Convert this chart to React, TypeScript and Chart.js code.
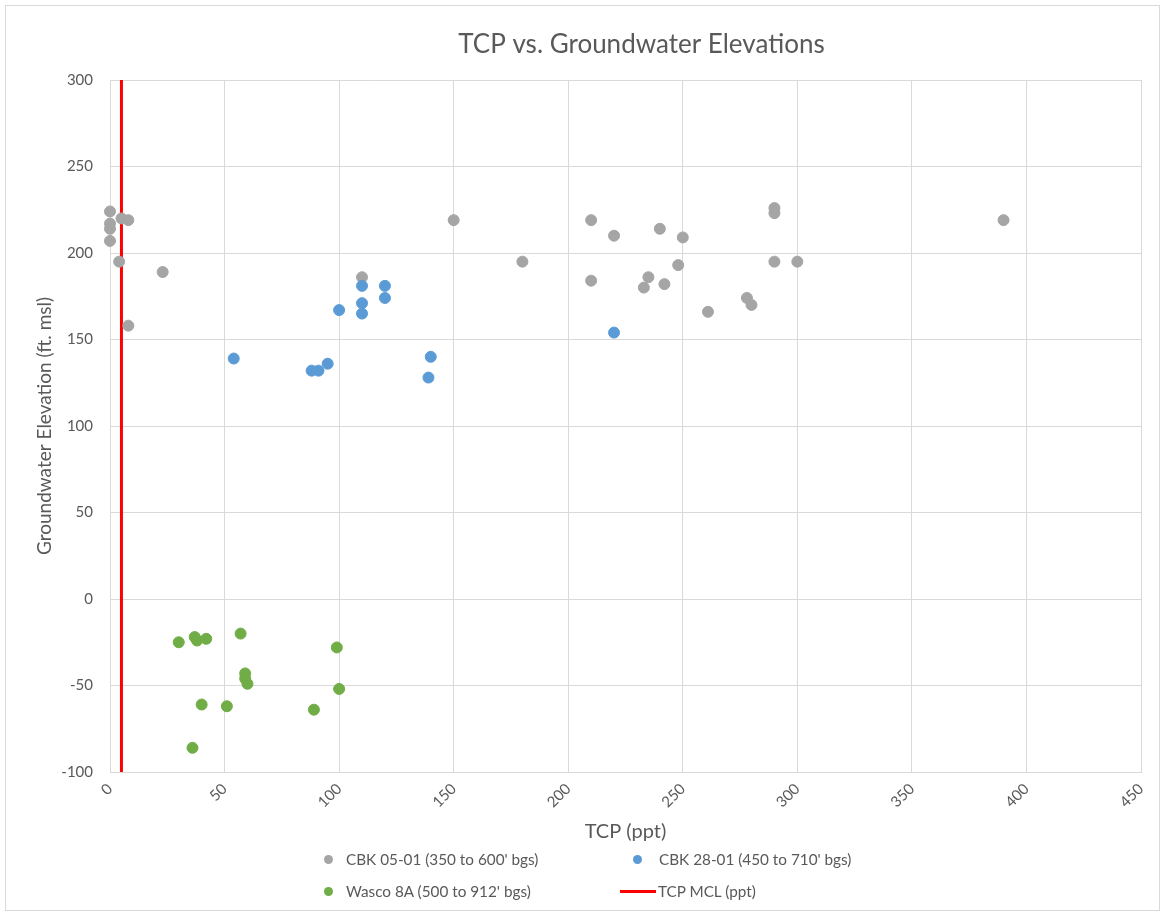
import React, { useEffect, useRef } from "react";
import { Chart, registerables } from "chart.js";

Chart.register(...registerables);

const TITLE = "TCP vs. Groundwater Elevations";
const X_TITLE = "TCP (ppt)";
const Y_TITLE = "Groundwater Elevation (ft. msl)";

const SERIES_NAMES = [
  "CBK 05-01 (350 to 600' bgs)",
  "CBK 28-01 (450 to 710' bgs)",
  "Wasco 8A (500 to 912' bgs)",
  "TCP MCL (ppt)",
];

// CBK 05-01
const cbk0501X = [0, 0, 0, 0, 5, 8, 4, 23, 8, 110, 150, 180, 210, 220, 240, 250, 290, 290, 290, 300, 248, 210, 235, 233, 242, 278, 280, 261, 390];
const cbk0501Y = [224, 217, 214, 207, 220, 219, 195, 189, 158, 186, 219, 195, 219, 210, 214, 209, 226, 223, 195, 195, 193, 184, 186, 180, 182, 174, 170, 166, 219];

// CBK 28-01
const cbk2801X = [54, 88, 91, 95, 100, 110, 110, 110, 120, 120, 140, 139, 220];
const cbk2801Y = [139, 132, 132, 136, 167, 181, 171, 165, 181, 174, 140, 128, 154];

// Wasco 8A
const wascoX = [30, 37, 38, 42, 57, 99, 59, 59, 60, 100, 40, 51, 89, 36];
const wascoY = [-25, -22, -24, -23, -20, -28, -43, -46, -49, -52, -61, -62, -64, -86];

// TCP MCL vertical line
const mclX = [5, 5];
const mclY = [-100, 300];

const X_MIN = 0, X_MAX = 450, X_STEP = 50;
const Y_MIN = -100, Y_MAX = 300, Y_STEP = 50;

const COLORS = ["#a5a5a5", "#5b9bd5", "#70ad47", "#ff0000"];
const TEXT = "#595959";
const GRID = "#d9d9d9";
const FONT = "Lato, 'Open Sans', sans-serif";

const pts = (xs: number[], ys: number[]) => xs.map((x, i) => ({ x, y: ys[i] }));

const titlePlugin = {
  id: "customTitle",
  afterDraw(chart: any) {
    const ctx = chart.ctx;
    const ca = chart.chartArea;
    ctx.save();
    ctx.font = `26px ${FONT}`;
    ctx.fillStyle = TEXT;
    ctx.textAlign = "center";
    ctx.textBaseline = "middle";
    ctx.fillText(TITLE, (ca.left + ca.right) / 2 + 16, 45);
    ctx.restore();
  },
};

export default function App() {
  const ref = useRef<HTMLCanvasElement | null>(null);

  useEffect(() => {
    if (!ref.current) return;
    const pointStyle = (c: string) => ({
      backgroundColor: c,
      borderColor: c,
      borderWidth: 1,
      pointRadius: 5.5,
      pointHoverRadius: 5.5,
      showLine: false,
      clip: false as any,
    });
    const chart = new Chart(ref.current, {
      type: "scatter",
      data: {
        datasets: [
          { label: SERIES_NAMES[0], data: pts(cbk0501X, cbk0501Y), order: 3, ...pointStyle(COLORS[0]) },
          { label: SERIES_NAMES[1], data: pts(cbk2801X, cbk2801Y), order: 2, ...pointStyle(COLORS[1]) },
          { label: SERIES_NAMES[2], data: pts(wascoX, wascoY), order: 1, ...pointStyle(COLORS[2]) },
          {
            label: SERIES_NAMES[3],
            data: pts(mclX, mclY),
            order: 4,
            showLine: true,
            borderColor: COLORS[3],
            backgroundColor: COLORS[3],
            borderWidth: 3,
            pointRadius: 0,
            pointHoverRadius: 0,
          } as any,
        ],
      },
      options: {
        responsive: false,
        animation: false,
        layout: { padding: { top: 80, right: 26, left: 0, bottom: 0 } },
        plugins: {
          legend: { display: false },
          title: { display: false },
          tooltip: { enabled: false },
        },
        scales: {
          x: {
            type: "linear",
            min: X_MIN,
            max: X_MAX,
            ticks: {
              stepSize: X_STEP,
              minRotation: 45,
              maxRotation: 45,
              color: TEXT,
              font: { family: FONT, size: 15 },
              padding: 8,
            },
            grid: { color: GRID, lineWidth: 1, drawTicks: false },
            border: { color: GRID, width: 1 },
            title: {
              display: true,
              text: X_TITLE,
              color: TEXT,
              font: { family: FONT, size: 20 },
              padding: { top: 0, bottom: 6 },
            },
            afterFit: (s: any) => {
              s.height = 78;
            },
          },
          y: {
            type: "linear",
            min: Y_MIN,
            max: Y_MAX,
            ticks: {
              stepSize: Y_STEP,
              color: TEXT,
              font: { family: FONT, size: 15 },
              padding: 17,
            },
            grid: { color: GRID, lineWidth: 1, drawTicks: false },
            border: { color: GRID, width: 1 },
            title: {
              display: true,
              text: Y_TITLE,
              color: TEXT,
              font: { family: FONT, size: 19 },
              padding: { top: 33, bottom: 0 },
            },
            afterFit: (s: any) => {
              s.width = 110;
            },
          },
        },
      },
      plugins: [titlePlugin],
    });
    return () => chart.destroy();
  }, []);

  const legendText: React.CSSProperties = {
    position: "absolute",
    fontFamily: FONT,
    fontSize: 15.3,
    color: TEXT,
    whiteSpace: "nowrap",
    lineHeight: "20px",
  };
  const dot = (cx: number, cy: number, c: string) => (
    <div
      style={{
        position: "absolute",
        left: cx - 4.5,
        top: cy - 4.5,
        width: 9,
        height: 9,
        borderRadius: "50%",
        background: c,
      }}
    />
  );

  return (
    <div style={{ position: "fixed", left: 0, top: 0, width: 1167, height: 916, background: "#fff", overflow: "hidden" }}>
      <div
        style={{
          position: "absolute",
          left: 5,
          top: 5,
          width: 1155,
          height: 906,
          border: `1px solid ${GRID}`,
          boxSizing: "border-box",
        }}
      />
      <canvas ref={ref} width={1167} height={850} style={{ position: "absolute", left: 0, top: 0 }} />
      {dot(328, 859, COLORS[0])}
      <div style={{ ...legendText, left: 346, top: 849 }}>{SERIES_NAMES[0]}</div>
      {dot(637, 859, COLORS[1])}
      <div style={{ ...legendText, left: 659, top: 849 }}>{SERIES_NAMES[1]}</div>
      {dot(328, 891, COLORS[2])}
      <div style={{ ...legendText, left: 346, top: 881 }}>{SERIES_NAMES[2]}</div>
      <div style={{ position: "absolute", left: 620, top: 890, width: 36, height: 3, background: COLORS[3] }} />
      <div style={{ ...legendText, left: 658, top: 881 }}>{SERIES_NAMES[3]}</div>
    </div>
  );
}
